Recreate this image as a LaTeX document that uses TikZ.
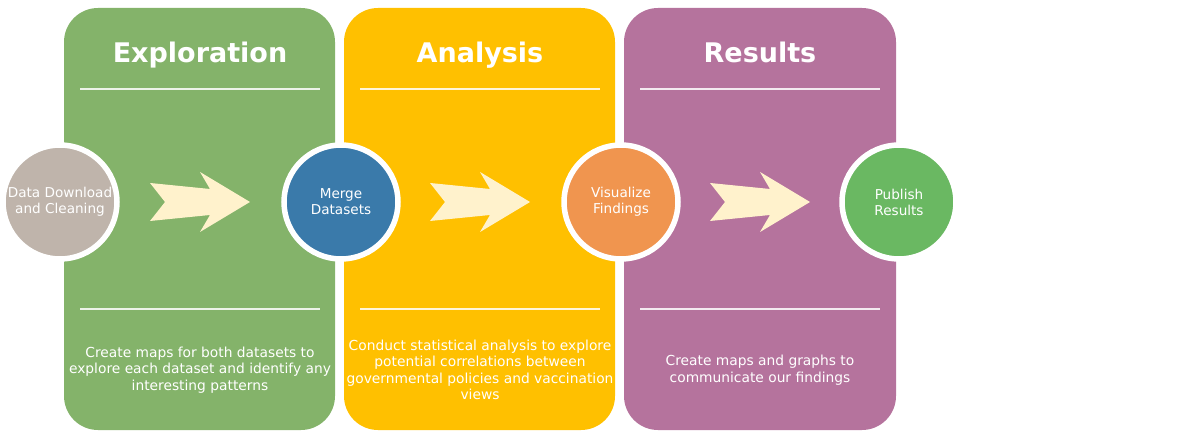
\documentclass[tikz,border=0pt]{standalone}
\usepackage{fontspec}
\setmainfont{DejaVu Sans}
\begin{document}
\begin{tikzpicture}[x=1pt,y=-1pt,
  panel/.style={rounded corners=34pt},
  rule/.style={draw=white,draw opacity=0.85,line width=1.8pt},
  title/.style={text=white,anchor=base,font=\fontsize{27}{30}\selectfont\bfseries},
  body/.style={text=white,align=center,font=\fontsize{13.8}{16.5}\selectfont},
  stage/.style={circle,draw=white,line width=5.5pt,minimum size=114pt,inner sep=0pt,
    text=white,align=center,font=\fontsize{13.6}{16}\selectfont},
  chevron/.style={fill=cream,draw=none}]
\definecolor{cgreen}{HTML}{84B36A}
\definecolor{cyellow}{HTML}{FFC000}
\definecolor{cpurple}{HTML}{B5739D}
\definecolor{cgray}{HTML}{BFB4AB}
\definecolor{cblue}{HTML}{3A7AAA}
\definecolor{corange}{HTML}{F0954F}
\definecolor{cleaf}{HTML}{6AB862}
\definecolor{cream}{HTML}{FFF2CC}
\useasboundingbox (0,0) rectangle (1181,438);
% three stage panels
\fill[cgreen,panel]  (64,8)  rectangle (335,430);
\fill[cyellow,panel] (344,8) rectangle (615,430);
\fill[cpurple,panel] (624,8) rectangle (896,430);
% titles
\node[title] (t1) at (200,63) {Exploration};
\node[title] (t2) at (480,63) {Analysis};
\node[title] (t3) at (760,63) {Results};
% separator rules
\foreach \x in {0,280,560}{
  \draw[rule] (80+\x,89) -- (320+\x,89);
  \draw[rule] (80+\x,309) -- (320+\x,309);
}
% descriptions
\node[body] (d1) at (200,370) {Create maps for both datasets to\\explore each dataset and identify any\\interesting patterns};
\node[body] (d2) at (480,370) {Conduct statistical analysis to explore\\potential correlations between\\governmental policies and vaccination\\views};
\node[body] (d3) at (760,370) {Create maps and graphs to\\communicate our findings};
% chevron arrows
\foreach \x [count=\i] in {0,280,560}{
  \fill[chevron] (150+\x,183) -- (210+\x,189) -- (200+\x,172) -- (250+\x,202)
    -- (200+\x,232) -- (210+\x,215) -- (150+\x,221) -- (165+\x,202) -- cycle;
}
% stage circles
\node[stage,fill=cgray]   (c1) at (60,202)  {Data Download\\and Cleaning};
\node[stage,fill=cblue]   (c2) at (341,202) {Merge\\Datasets};
\node[stage,fill=corange] (c3) at (621,202) {Visualize\\Findings};
\node[stage,fill=cleaf]   (c4) at (899,202) {Publish\\Results};
\end{tikzpicture}
\end{document}
